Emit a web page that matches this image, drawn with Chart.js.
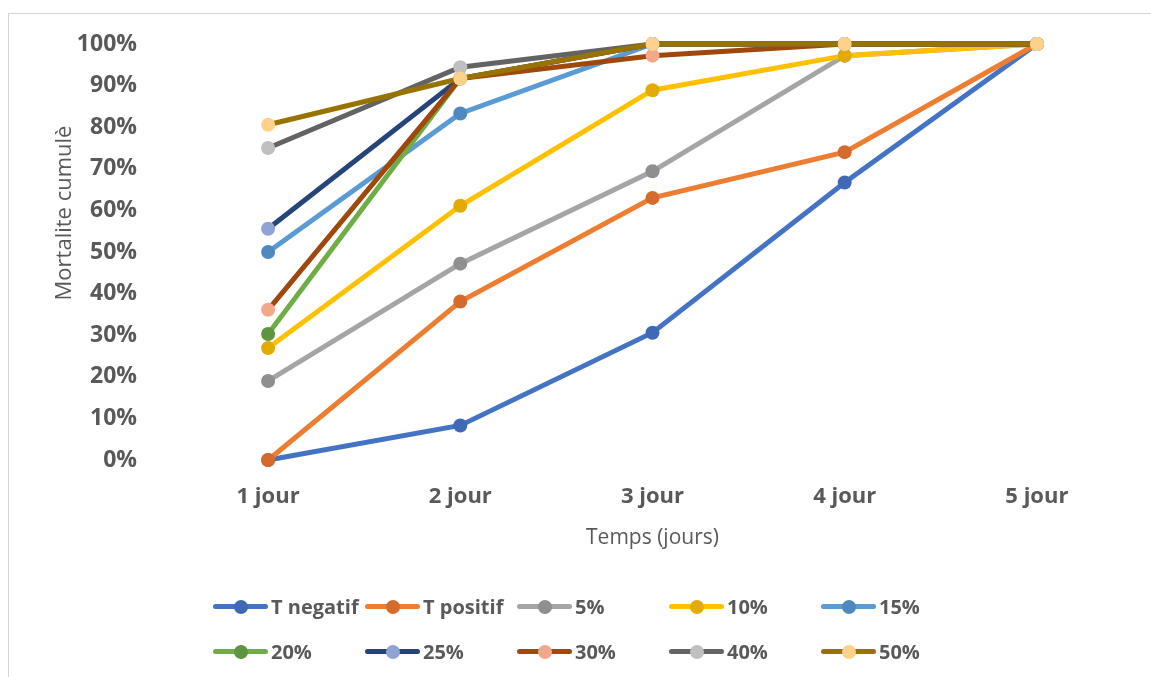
<!DOCTYPE html>
<html>
<head>
<meta charset="utf-8">
<script src="https://cdn.jsdelivr.net/npm/chart.js@4/dist/chart.umd.min.js"></script>
<style>
  html, body { margin: 0; padding: 0; background: #ffffff; overflow: hidden; }
  #wrap { position: relative; width: 1151px; height: 677px; }
  #frame { position: absolute; left: 8px; top: 13px; width: 1200px; height: 720px;
           border: 1px solid #d4d4d4; box-sizing: border-box; }
  #chart { position: absolute; left: 0; top: 0; }
  #legend { position: absolute; left: 213px; top: 584px; width: 900px;
            font-family: "Open Sans", "DejaVu Sans", sans-serif; font-weight: 700;
            font-size: 20px; color: #595959; }
  .row { display: flex; height: 45px; align-items: center; }
  .item { width: 152px; display: flex; align-items: center; height: 30px; }
  .swatch { position: relative; width: 55px; height: 14px; flex: none; }
  .swatch .ln { position: absolute; left: 0; right: 0; top: 4.5px; height: 5px; border-radius: 2.5px; }
  .swatch .dot { position: absolute; left: 20.5px; top: 0; width: 14px; height: 14px; border-radius: 50%; }
  .txt { margin-left: 3px; white-space: nowrap; line-height: 30px; }
</style>
</head>
<body>
<div id="wrap">
  <div id="frame"></div>
  <canvas id="chart" width="1151" height="677"></canvas>
  <div id="legend"></div>
</div>
<script>
// Days of observation
const categories = ['1 jour', '2 jour', '3 jour', '4 jour', '5 jour'];

// Cumulative mortality (%) per treatment
const tNegatif = [0, 8.3, 30.6, 66.7, 100];
const tPositif = [0, 38.1, 63.0, 74.0, 100];
const dose5  = [19.0, 47.2, 69.4, 97.2, 100];
const dose10 = [26.9, 61.1, 88.9, 97.2, 100];
const dose15 = [50.0, 83.3, 100, 100, 100];
const dose20 = [30.3, 91.7, 100, 100, 100];
const dose25 = [55.6, 91.7, 100, 100, 100];
const dose30 = [36.1, 91.7, 97.2, 100, 100];
const dose40 = [75.0, 94.4, 100, 100, 100];
const dose50 = [80.6, 91.7, 100, 100, 100];

// Y axis tick values
const yTicks = [0, 10, 20, 30, 40, 50, 60, 70, 80, 90, 100];

const seriesNames = ['T negatif', 'T positif', '5%', '10%', '15%', '20%', '25%', '30%', '40%', '50%'];
const seriesValues = [tNegatif, tPositif, dose5, dose10, dose15, dose20, dose25, dose30, dose40, dose50];
const lineColors = ['#4472C4', '#ED7D31', '#A5A5A5', '#FFC000', '#5B9BD5',
                    '#70AD47', '#264478', '#9E480E', '#636363', '#997300'];
const markerColors = ['#3F69B5', '#D46B2D', '#8F8F8F', '#E2AB00', '#4F89BF',
                      '#5F9540', '#8FA3D5', '#F1A88B', '#C0C0C0', '#FFD18A'];

const n = seriesNames.length;
const datasets = seriesNames.map((name, i) => ({
  label: name,
  data: seriesValues[i],
  borderColor: lineColors[i],
  backgroundColor: markerColors[i],
  pointBackgroundColor: markerColors[i],
  pointBorderColor: markerColors[i],
  pointBorderWidth: 0,
  pointRadius: 7,
  pointHoverRadius: 7,
  borderWidth: 5,
  tension: 0,
  fill: false,
  clip: false,
  order: n - i
}));

const textColor = '#595959';
const fontFamily = '"Open Sans", "DejaVu Sans", sans-serif';

// Vertical axis title, placed a little above the middle of the value axis
const yTitlePlugin = {
  id: 'yTitle',
  afterDraw(chart) {
    const ctx = chart.ctx;
    ctx.save();
    ctx.translate(65, 213);
    ctx.rotate(-Math.PI / 2);
    ctx.fillStyle = textColor;
    ctx.font = '400 22px ' + fontFamily;
    ctx.textAlign = 'center';
    ctx.textBaseline = 'middle';
    ctx.fillText('Mortalite cumulè', 0, 0);
    ctx.restore();
  }
};

const chart = new Chart(document.getElementById('chart'), {
  type: 'line',
  data: { labels: categories, datasets },
  plugins: [yTitlePlugin],
  options: {
    responsive: false,
    animation: false,
    events: [],
    layout: { padding: { left: 0, right: 18, top: 44, bottom: 117 } },
    plugins: { legend: { display: false }, tooltip: { enabled: false } },
    scales: {
      x: {
        type: 'category',
        offset: true,
        grid: { display: false },
        border: { display: false },
        ticks: { color: textColor, font: { family: fontFamily, size: 22, weight: '700' }, padding: 16, maxRotation: 0 },
        title: { display: true, text: 'Temps (jours)', color: textColor,
                 font: { family: fontFamily, size: 21, weight: '400' }, padding: { top: 0, bottom: 9 } },
        afterFit: (s) => { s.height = 100; }
      },
      y: {
        min: 0,
        max: 100,
        grid: { display: false },
        border: { display: false },
        afterBuildTicks: (s) => { s.ticks = yTicks.map(v => ({ value: v })); },
        ticks: { color: textColor, font: { family: fontFamily, size: 23, weight: '700' }, padding: 27,
                 callback: (v) => v + '%' },
        afterFit: (s) => { s.width = 172; }
      }
    }
  }
});

// Legend laid out as a two-row grid of five columns
const legend = document.getElementById('legend');
for (let r = 0; r < 2; r++) {
  const row = document.createElement('div');
  row.className = 'row';
  for (let c = 0; c < 5; c++) {
    const i = r * 5 + c;
    const item = document.createElement('div');
    item.className = 'item';
    const sw = document.createElement('span');
    sw.className = 'swatch';
    const ln = document.createElement('span');
    ln.className = 'ln';
    ln.style.background = lineColors[i];
    const dot = document.createElement('span');
    dot.className = 'dot';
    dot.style.background = markerColors[i];
    sw.appendChild(ln); sw.appendChild(dot);
    const t = document.createElement('span');
    t.className = 'txt';
    t.textContent = chart.data.datasets[i].label;
    item.appendChild(sw); item.appendChild(t);
    row.appendChild(item);
  }
  legend.appendChild(row);
}
</script>
</body>
</html>
